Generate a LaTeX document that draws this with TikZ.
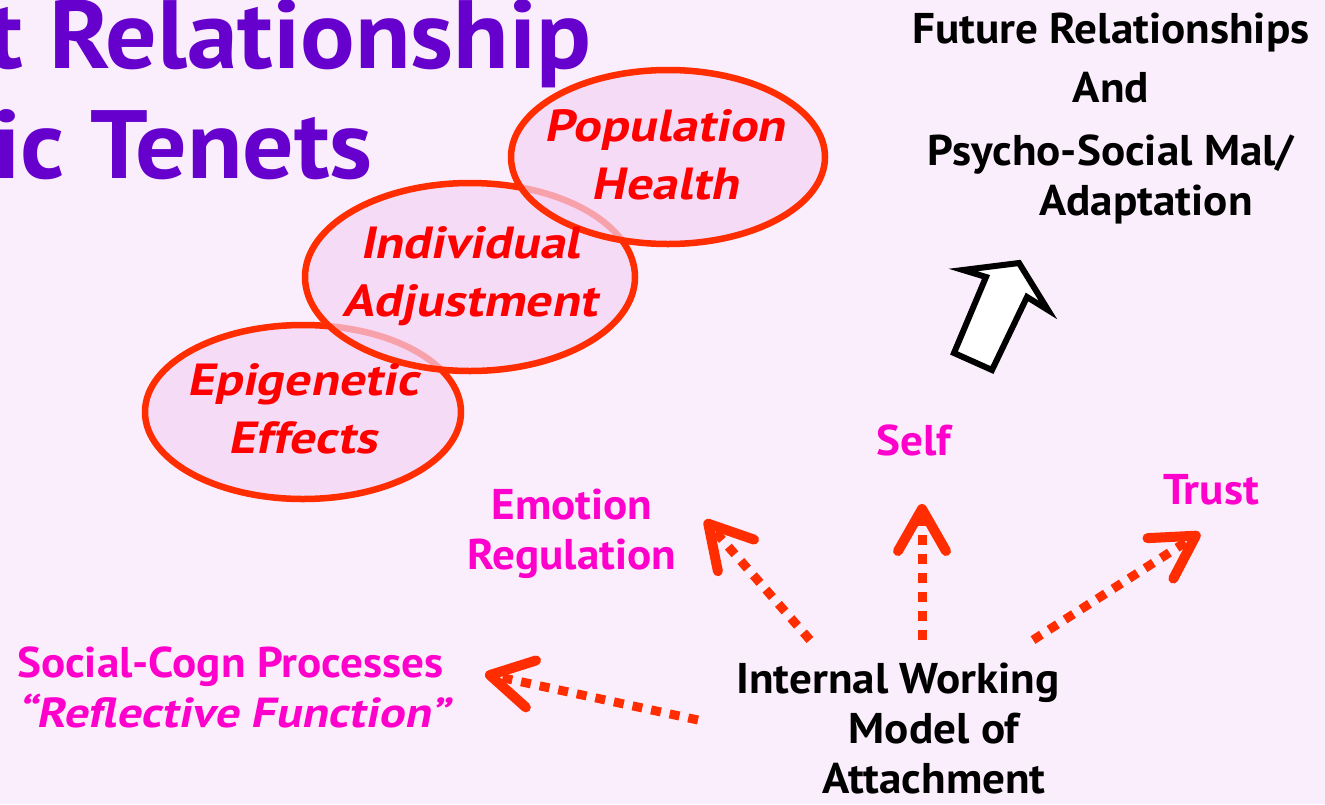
\documentclass[tikz,border=0pt]{standalone}
\usepackage{fontspec}
\setmainfont{PT Sans}[FakeStretch=1.05]
\newfontfamily\slantfont{PT Sans}[FakeSlant=0.2,FakeStretch=1.15]
\usetikzlibrary{arrows.meta,shapes.geometric}

\definecolor{slidebg}{RGB}{251,238,252}
\definecolor{titlepurple}{RGB}{102,0,204}
\definecolor{tenetred}{RGB}{255,0,0}
\definecolor{rimred}{RGB}{255,45,0}
\definecolor{facetpink}{RGB}{255,0,204}
\definecolor{dotpink}{RGB}{245,212,245}

\tikzset{
  tenet/.style={ellipse, draw=rimred, line width=6.5pt, fill=dotpink, fill opacity=0.7, inner sep=0pt},
  tenettext/.style={text=tenetred, font=\fontsize{45}{58}\slantfont\bfseries, align=center, inner sep=0pt},
  facet/.style={text=facetpink, font=\fontsize{43}{50}\selectfont\bfseries, inner sep=0pt},
  plain/.style={text=black, font=\fontsize{43}{50}\selectfont\bfseries, inner sep=0pt},
  link/.style={draw=rimred, line width=9pt, dash pattern=on 10pt off 9pt, -{Straight Barb[length=42pt,width=48pt,line width=10pt,round]}}
}

\begin{document}
\begin{tikzpicture}[x=1pt,y=1pt,yscale=-1]
%set diagram to 1325 x 804
\fill[slidebg] (0,0) rectangle (1325,804);
\useasboundingbox (0,0) rectangle (1325,804);

% Title (cut at the left edge)
\node (title1) [anchor=base east, inner sep=0pt, text=titlepurple, font=\fontsize{97}{110}\selectfont\bfseries] at (592,68) {t Relationship};
\node (title2) [anchor=base east, inner sep=0pt, text=titlepurple, font=\fontsize{97}{110}\selectfont\bfseries] at (373,178) {ic Tenets};

%Ellipses
\node (epi) [tenet, minimum width=316pt, minimum height=174pt] at (303,412) {};
\node (indiv) [tenet, minimum width=330pt, minimum height=188pt] at (470,277) {};
\node (pop) [tenet, minimum width=314pt, minimum height=174pt] at (668,157) {};
\node (epiText) [tenettext] at ([yshift=-3pt]epi) {Epigenetic\\Effects};
\node (indivText) [tenettext] at ([yshift=-1pt]indiv) {Individual\\Adjustment};
\node (popText) [tenettext] at ([xshift=-3pt,yshift=-2pt]pop) {Population\\Health};

% Text Node
\node (future) [plain, anchor=north, align=center, font=\fontsize{43}{59}\selectfont\bfseries] at (1111,13) {Future Relationships\\And\\[4pt]Psycho-Social Mal/\\[-9pt]\hspace*{70pt}Adaptation};
% Text Node
\node (self) [facet, anchor=north] at (914,425) {Self};
\node (trust) [facet, anchor=north] at (1211,474) {Trust};
\node (emo) [facet, anchor=north, align=center] at (572,489) {Emotion\\Regulation};
\node (social) [facet, anchor=north west, align=left] at (17,647) {Social-Cogn Processes\\{\fontsize{42}{50}\slantfont\bfseries “Reflective Function”}};
\node (iwm) [plain, anchor=north, align=center] at (898,663) {Internal Working\\\hspace*{72pt}Model of\\\hspace*{72pt}Attachment};

%Block arrow
\draw [line width=6pt, fill=white, line join=miter] (954,353) -- (992,370) -- (1027,297) -- (1048,310) -- (1019,263) -- (963,270) -- (986,277) -- cycle;

%Dotted arrows
\coordinate (emoTail) at (810,640);
\coordinate (emoTip) at (705,520);
\coordinate (selfTail) at (922,640);
\coordinate (selfTip) at (922,504);
\coordinate (trustTail) at (1033,640);
\coordinate (trustTip) at (1200,533);
\coordinate (socialTail) at (698,720);
\coordinate (socialTip) at (485,674);
\draw [link] (emoTail) -- (emoTip);
\draw [link] (selfTail) -- (selfTip);
\draw [link] (trustTail) -- (trustTip);
\draw [link] (socialTail) -- (socialTip);

\end{tikzpicture}
\end{document}
